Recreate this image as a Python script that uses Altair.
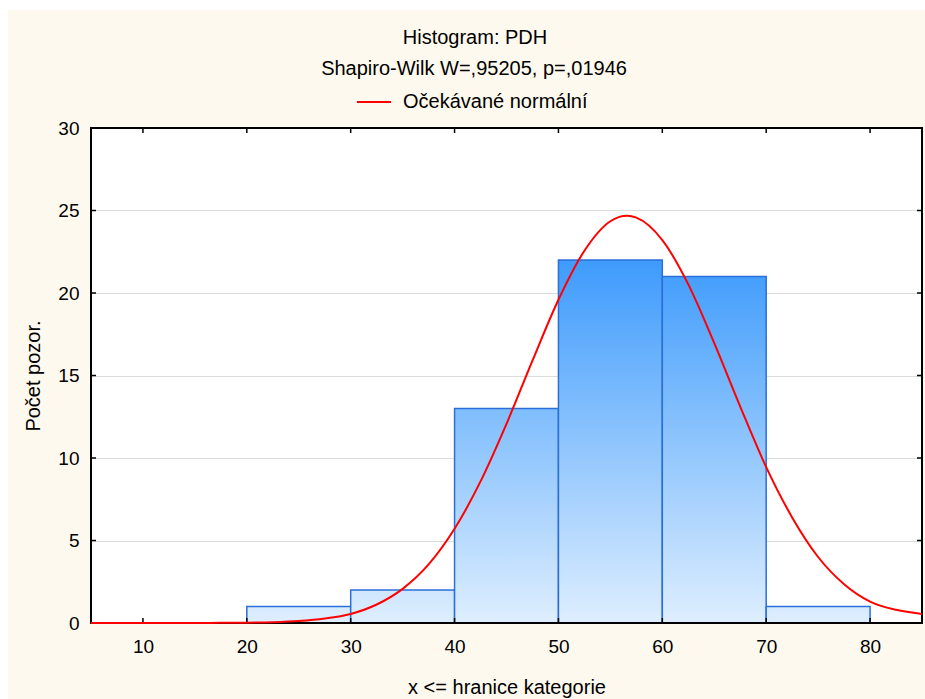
import altair as alt
import pandas as pd

# ---- data ----
bin_start = [20, 30, 40, 50, 60, 70]
bin_end = [30, 40, 50, 60, 70, 80]
counts = [1, 2, 13, 22, 21, 1]

curve_x = [5, 7.5, 10, 12.5, 15, 17.5, 20, 22.5, 25, 27.5, 30, 32.5, 35, 37.5, 40,
           42.5, 45, 47.5, 50, 52.5, 55, 56.6, 57.5, 60, 62.5, 65, 67.5, 70, 72.5,
           75, 77.5, 80, 82.5, 85]
curve_y = [0, 0, 0, 0, 0, 0.01, 0.02, 0.05, 0.12, 0.27, 0.55, 1.12, 2.07, 3.55, 5.71,
           8.58, 12.07, 15.9, 19.59, 22.56, 24.35, 24.68, 24.57, 23.21, 20.52, 16.96,
           13.12, 9.45, 6.4, 4.0, 2.35, 1.3, 0.8, 0.55]

x_ticks = [10, 20, 30, 40, 50, 60, 70, 80]
y_ticks = [0, 5, 10, 15, 20, 25, 30]
inner_y_ticks = [5, 10, 15, 20, 25]

title_text = "Histogram: PDH"
subtitle_text = "Shapiro-Wilk W=,95205, p=,01946"
legend_label = "Očekávané normální"
x_title = "x <= hranice kategorie"
y_title = "Počet pozor."

# ---- styles ----
W, H = 831, 495
PAD_L, PAD_T, PAD_R, PAD_B = 91, 128, 3, 76
FONT = "Liberation Sans"
FS = 19      # tick labels
FT = 20      # titles / legend
CREAM = "#FEF9EE"
EDGE = "#2B6FDB"
BOTTOM_RGB = (222, 238, 254)
TOP_RGB = (62, 155, 252)
TOP_VAL = 22.0


def grad_color(v):
    t = v / TOP_VAL
    c = [round(a + (b - a) * t) for a, b in zip(BOTTOM_RGB, TOP_RGB)]
    return "#%02x%02x%02x" % tuple(c)


x_scale = alt.Scale(domain=[5, 85], nice=False, zero=False)
y_scale = alt.Scale(domain=[0, 30], nice=False)

x_axis = alt.Axis(values=x_ticks, title=x_title, grid=False, ticks=False, domain=False,
                  labelPadding=14, labelFont=FONT, labelFontSize=FS, labelColor="black",
                  titleFont=FONT, titleFontSize=FT, titleFontWeight="normal",
                  titleColor="black", titleX=W / 2, titleY=70,
                  titleBaseline="alphabetic", titleAlign="center")
y_axis = alt.Axis(values=y_ticks, title=y_title, grid=True, gridColor="#DCDCDC",
                  gridWidth=1, ticks=False, domain=False, labelPadding=12,
                  labelFont=FONT, labelFontSize=FS, labelColor="black",
                  titleFont=FONT, titleFontSize=FT, titleFontWeight="normal",
                  titleColor="black", titleX=-58, titleY=H / 2, titleAngle=270,
                  titleAlign="center", titleBaseline="middle")

one = pd.DataFrame({"k": [0]})

# white page margin strips (top, left)
strip_left = alt.Chart(one).mark_rect(color="white").encode(
    x=alt.value(-PAD_L), x2=alt.value(-PAD_L + 8),
    y=alt.value(-PAD_T), y2=alt.value(H + PAD_B))
strip_top = alt.Chart(one).mark_rect(color="white").encode(
    x=alt.value(-PAD_L), x2=alt.value(W + PAD_R),
    y=alt.value(-PAD_T), y2=alt.value(-PAD_T + 10))

# bars, each with a gradient tied to the common plot scale
bars_df = pd.DataFrame({"start": bin_start, "end": bin_end, "count": counts})
bar_layers = []
for i in range(len(counts)):
    grad = alt.LinearGradient(
        gradient="linear", x1=0, y1=1, x2=0, y2=0,
        stops=[alt.GradientStop(offset=0, color=grad_color(0)),
               alt.GradientStop(offset=1, color=grad_color(counts[i]))])
    bar_layers.append(
        alt.Chart(bars_df.iloc[[i]]).mark_rect(fill=grad, stroke=EDGE, strokeWidth=1.5)
        .encode(x=alt.X("start:Q", scale=x_scale, axis=x_axis),
                x2="end:Q",
                y=alt.Y("count:Q", scale=y_scale, axis=y_axis),
                y2=alt.datum(0)))

curve_df = pd.DataFrame({"x": curve_x, "y": curve_y, "series": legend_label})
curve = alt.Chart(curve_df).mark_line(strokeWidth=2, interpolate="monotone").encode(
    x=alt.X("x:Q", scale=x_scale, axis=x_axis),
    y=alt.Y("y:Q", scale=y_scale, axis=y_axis),
    color=alt.Color("series:N",
                    scale=alt.Scale(domain=[legend_label], range=["#FF0000"]),
                    legend=alt.Legend(orient="none", legendX=265, legendY=-44,
                                      title=None, symbolType="stroke",
                                      symbolStrokeWidth=2, symbolSize=1156,
                                      labelFont=FONT, labelFontSize=FT,
                                      labelColor="black", labelOffset=11,
                                      labelLimit=0, padding=0)))

# inner tick marks
yt = pd.DataFrame({"v": inner_y_ticks})
xt = pd.DataFrame({"v": x_ticks})
tick_left = alt.Chart(yt).mark_rule(color="black", strokeWidth=1.5).encode(
    y=alt.Y("v:Q", scale=y_scale, axis=y_axis), x=alt.value(0), x2=alt.value(5))
tick_right = alt.Chart(yt).mark_rule(color="black", strokeWidth=1.5).encode(
    y=alt.Y("v:Q", scale=y_scale, axis=y_axis), x=alt.value(W - 5), x2=alt.value(W))
tick_bottom = alt.Chart(xt).mark_rule(color="black", strokeWidth=1.5).encode(
    x=alt.X("v:Q", scale=x_scale, axis=x_axis), y=alt.value(H - 5), y2=alt.value(H))
tick_top = alt.Chart(xt).mark_rule(color="black", strokeWidth=1.5).encode(
    x=alt.X("v:Q", scale=x_scale, axis=x_axis), y=alt.value(0), y2=alt.value(5))

border = alt.Chart(one).mark_rect(fillOpacity=0, stroke="black", strokeWidth=2).encode(
    x=alt.value(0), x2=alt.value(W), y=alt.value(0), y2=alt.value(H))

title_df = pd.DataFrame({"t": [title_text]})
sub_df = pd.DataFrame({"t": [subtitle_text]})
title_mark = alt.Chart(title_df).mark_text(
    font=FONT, fontSize=FT, color="black", align="center", baseline="alphabetic"
).encode(text="t:N", x=alt.value(475 - PAD_L), y=alt.value(44 - PAD_T))
sub_mark = alt.Chart(sub_df).mark_text(
    font=FONT, fontSize=FT, color="black", align="center", baseline="alphabetic"
).encode(text="t:N", x=alt.value(474 - PAD_L), y=alt.value(75 - PAD_T))

chart = alt.layer(
    strip_left, strip_top, *bar_layers, border,
    tick_left, tick_right, tick_bottom, tick_top, curve, title_mark, sub_mark
).properties(
    width=W, height=H,
    autosize=alt.AutoSizeParams(type="none"),
    padding={"left": PAD_L, "top": PAD_T, "right": PAD_R, "bottom": PAD_B},
).configure(background=CREAM).configure_view(fill="white", stroke=None)

chart.save("out.html", embed_options={"renderer": "svg", "actions": False})
